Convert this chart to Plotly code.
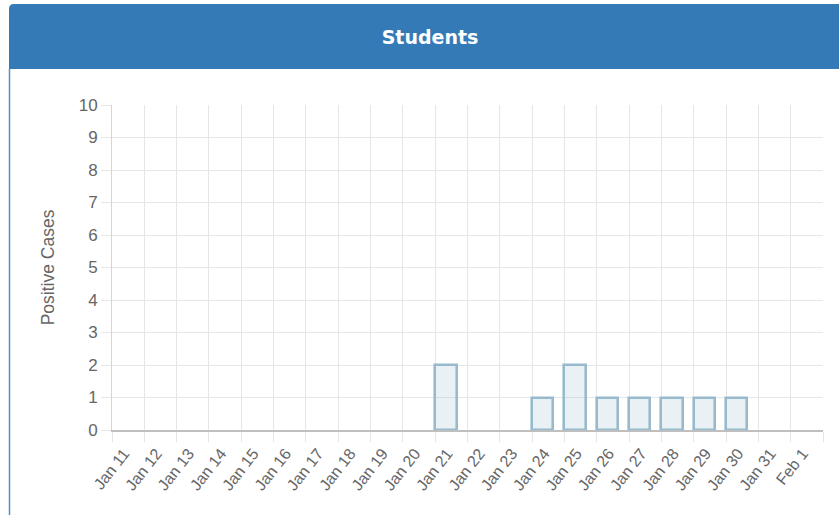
import plotly.graph_objects as go

# ---- data ----
dates = ["2021-01-11", "2021-01-12", "2021-01-13", "2021-01-14", "2021-01-15",
         "2021-01-16", "2021-01-17", "2021-01-18", "2021-01-19", "2021-01-20",
         "2021-01-21", "2021-01-22", "2021-01-23", "2021-01-24", "2021-01-25",
         "2021-01-26", "2021-01-27", "2021-01-28", "2021-01-29", "2021-01-30",
         "2021-01-31", "2021-02-01"]
tick_labels = ["Jan 11", "Jan 12", "Jan 13", "Jan 14", "Jan 15", "Jan 16", "Jan 17",
               "Jan 18", "Jan 19", "Jan 20", "Jan 21", "Jan 22", "Jan 23", "Jan 24",
               "Jan 25", "Jan 26", "Jan 27", "Jan 28", "Jan 29", "Jan 30", "Jan 31",
               "Feb 1"]
positive_cases = [0, 0, 0, 0, 0, 0, 0, 0, 0, 0, 2, 0, 0, 1, 2, 1, 1, 1, 1, 1, 0, 0]
range_end = "2021-02-02"
title_text = "Students"
y_title = "Positive Cases"

# ---- layout geometry (pixels) ----
W, H = 839, 515
L, R, T, B = 112, 16, 105, 85
PW, PH = W - L - R, H - T - B


def px(x):
    return (x - L) / PW


def py(y):
    return (H - B - y) / PH


DAY_MS = 86400000
GRID = "#e6e6e6"
TXT = "#666666"
FONT = "Liberation Sans, Arial, Helvetica, sans-serif"

fig = go.Figure()
fig.add_trace(go.Bar(
    x=dates,
    y=[v if v else None for v in positive_cases],
    width=0.66 * DAY_MS,
    offset=0,
    marker=dict(color="rgba(151,187,205,0.2)",
                line=dict(color="rgba(151,187,205,1)", width=2.6)),
    hoverinfo="x+y",
    showlegend=False,
))

# header bar with rounded top-left corner
hx0, hx1, hy0, hy1, r = 9, 850, 69, 4, 5
header_path = (
    f"M {px(hx0)},{py(hy0)} L {px(hx0)},{py(hy1 + r)} "
    f"Q {px(hx0)},{py(hy1)} {px(hx0 + r)},{py(hy1)} "
    f"L {px(hx1)},{py(hy1)} L {px(hx1)},{py(hy0)} Z"
)
shapes = [
    dict(type="path", xref="paper", yref="paper", path=header_path,
         fillcolor="#337ab7", line=dict(width=0), layer="below"),
    dict(type="line", xref="paper", yref="paper",
         x0=px(9.5), x1=px(9.5), y0=py(hy0), y1=py(H + 5),
         line=dict(color="#4f8fc9", width=1.5)),
]

fig.update_layout(
    width=W, height=H,
    margin=dict(l=L, r=R, t=T, b=B, autoexpand=False),
    paper_bgcolor="white", plot_bgcolor="white",
    bargap=0,
    shapes=shapes,
    title=dict(text=f"<b>{title_text}</b>", x=430 / W, xanchor="center",
               y=1 - 37 / H, yanchor="middle", yref="container",
               font=dict(family="DejaVu Sans, Verdana, sans-serif", size=19, color="white")),
    xaxis=dict(
        type="date",
        range=[dates[0], range_end],
        tickvals=dates + [range_end],
        ticktext=tick_labels + [""],
        tickangle=-52,
        showgrid=True, gridcolor=GRID, gridwidth=1,
        ticks="outside", ticklen=10, tickcolor=GRID,
        showline=True, linecolor="#bfbfbf", linewidth=1.5,
        tickfont=dict(family=FONT, size=16, color=TXT),
        ticklabelshift=12, ticklabelstandoff=-4,
        zeroline=False,
        fixedrange=True,
    ),
    yaxis=dict(
        range=[0, 10], dtick=1, tick0=0,
        showgrid=True, gridcolor=GRID, gridwidth=1,
        ticks="outside", ticklen=10, tickcolor=GRID,
        showline=True, linecolor="#d6d6d6", linewidth=1,
        zeroline=False,
        tickfont=dict(family=FONT, size=17, color=TXT),
        title=dict(text=y_title, font=dict(family=FONT, size=17.5, color=TXT), standoff=19),
        fixedrange=True,
    ),
)

fig.write_html("out.html",
               config={"displayModeBar": False},
               post_script="document.body.style.margin='0';document.body.style.padding='0';")
